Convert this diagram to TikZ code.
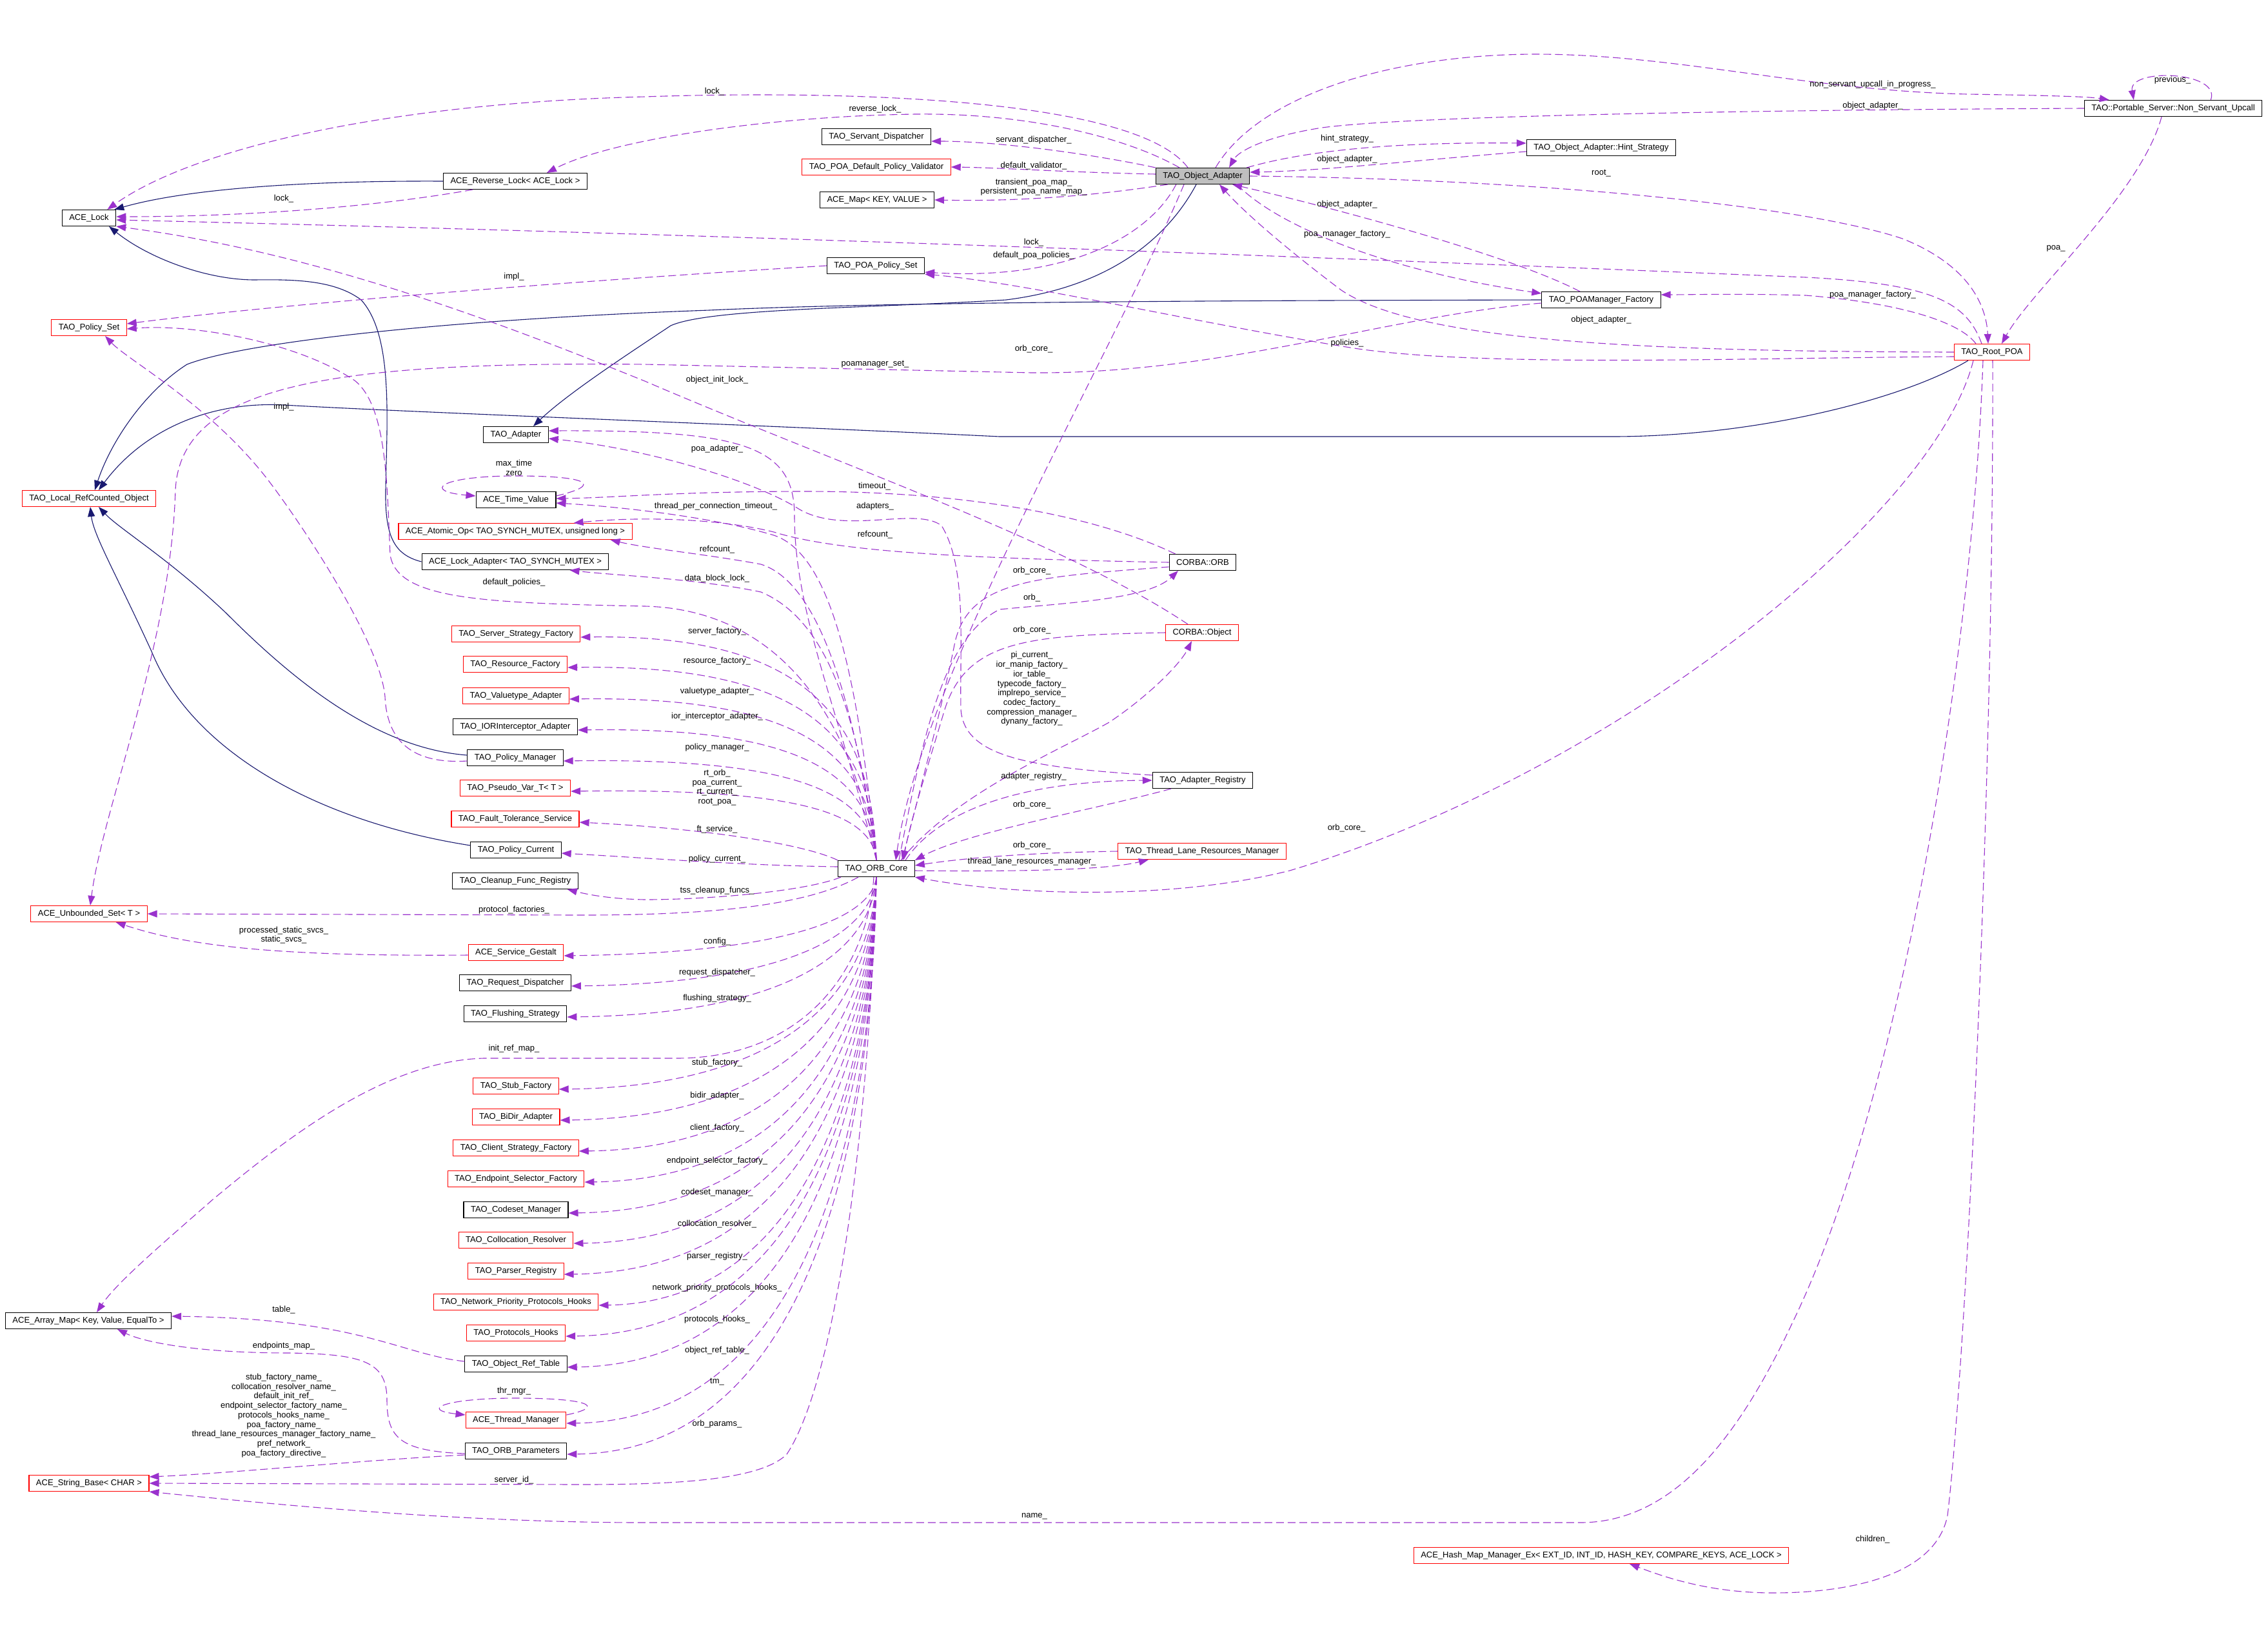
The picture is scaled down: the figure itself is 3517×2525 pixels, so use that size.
\documentclass[tikz,border=0pt]{standalone}
\usepackage{fontspec}
\setmainfont{Liberation Sans}
\usetikzlibrary{arrows.meta}
\definecolor{UsePurple}{HTML}{9A32CD}
\definecolor{BaseNavy}{HTML}{191970}
\definecolor{NodeRed}{HTML}{FF0000}
\definecolor{NodeGray}{HTML}{BFBFBF}
\tikzset{
  cls/.style={draw=black, line width=1.1pt, fill=white, inner xsep=11pt, inner ysep=0pt,
    minimum height=25pt, font=\fontsize{13}{14.7}\selectfont},
  clsred/.style={cls, draw=NodeRed},
  clsmain/.style={cls, fill=NodeGray},
  lbl/.style={inner sep=0pt, align=center, font=\fontsize{13}{14.7}\selectfont},
  uses/.style={draw=UsePurple, line width=1.1pt, dash pattern=on 12pt off 6pt,
    -{Triangle[length=15pt,width=11pt,fill=UsePurple]}},
  isa/.style={draw=BaseNavy, line width=1.1pt,
    -{Triangle[length=15pt,width=11pt,fill=BaseNavy]}}
}

\begin{document}
\begin{tikzpicture}[x=1pt, y=-1pt]
  \path[fill=white] (0,0) rectangle (3517,2525);

  % classes, left
  \node[cls] (lock) at (138,338) {ACE\_Lock};
  \node[clsred] (pset) at (138,508) {TAO\_Policy\_Set};
  \node[clsred] (lrco) at (138,773) {TAO\_Local\_RefCounted\_Object};
  \node[clsred] (uset) at (138,1417) {ACE\_Unbounded\_Set< T >};
  \node[cls] (amap) at (137,2048) {ACE\_Array\_Map< Key, Value, EqualTo >};
  \node[clsred] (sbase) at (138,2300) {ACE\_String\_Base< CHAR >};

  \node[cls] (rlock) at (799,281) {ACE\_Reverse\_Lock< ACE\_Lock >};
  \node[cls] (adapter) at (800,674) {TAO\_Adapter};
  \node[cls] (tval) at (800,775) {ACE\_Time\_Value};
  \node[clsred] (aop) at (799,824) {ACE\_Atomic\_Op< TAO\_SYNCH\_MUTEX, unsigned long >};
  \node[cls] (ladapt) at (799,871) {ACE\_Lock\_Adapter< TAO\_SYNCH\_MUTEX >};
  \node[clsred] (ssf) at (800,983) {TAO\_Server\_Strategy\_Factory};
  \node[clsred] (rf) at (799,1030) {TAO\_Resource\_Factory};
  \node[clsred] (vta) at (800,1079) {TAO\_Valuetype\_Adapter};
  \node[cls] (iora) at (799,1127) {TAO\_IORInterceptor\_Adapter};
  \node[cls] (pman) at (799,1175) {TAO\_Policy\_Manager};
  \node[clsred] (pvar) at (799,1222) {TAO\_Pseudo\_Var\_T< T >};
  \node[clsred] (fts) at (799,1270) {TAO\_Fault\_Tolerance\_Service};
  \node[cls] (pcur) at (800,1318) {TAO\_Policy\_Current};
  \node[cls] (cfr) at (799,1366) {TAO\_Cleanup\_Func\_Registry};
  \node[clsred] (gestalt) at (800,1477) {ACE\_Service\_Gestalt};
  \node[cls] (rdisp) at (799,1524) {TAO\_Request\_Dispatcher};
  \node[cls] (flush) at (799,1572) {TAO\_Flushing\_Strategy};
  \node[clsred] (stubf) at (800,1684) {TAO\_Stub\_Factory};
  \node[clsred] (bidir) at (800,1732) {TAO\_BiDir\_Adapter};
  \node[clsred] (csf) at (800,1780) {TAO\_Client\_Strategy\_Factory};
  \node[clsred] (esf) at (800,1828) {TAO\_Endpoint\_Selector\_Factory};
  \node[cls] (csm) at (800,1876) {TAO\_Codeset\_Manager};
  \node[clsred] (colres) at (800,1923) {TAO\_Collocation\_Resolver};
  \node[clsred] (preg) at (800,1971) {TAO\_Parser\_Registry};
  \node[clsred] (nph) at (800,2019) {TAO\_Network\_Priority\_Protocols\_Hooks};
  \node[clsred] (phooks) at (800,2067) {TAO\_Protocols\_Hooks};
  \node[cls] (ortable) at (800,2115) {TAO\_Object\_Ref\_Table};
  \node[clsred] (thrmgr) at (800,2202) {ACE\_Thread\_Manager};
  \node[cls] (orbparams) at (800,2250) {TAO\_ORB\_Parameters};

  % classes, middle and right
  \node[cls] (sdisp) at (1359,212) {TAO\_Servant\_Dispatcher};
  \node[clsred] (dval) at (1359,259) {TAO\_POA\_Default\_Policy\_Validator};
  \node[cls] (kvmap) at (1360,310) {ACE\_Map< KEY, VALUE >};
  \node[cls] (ppset) at (1358,412) {TAO\_POA\_Policy\_Set};
  \node[cls] (core) at (1359,1347) {TAO\_ORB\_Core};

  \node[clsmain] (oa) at (1865,273) {TAO\_Object\_Adapter};
  \node[cls] (orb) at (1865,872) {CORBA::ORB};
  \node[clsred] (obj) at (1864,981) {CORBA::Object};
  \node[cls] (areg) at (1865,1210) {TAO\_Adapter\_Registry};
  \node[clsred] (tlrm) at (1864,1320) {TAO\_Thread\_Lane\_Resources\_Manager};

  \node[cls] (hint) at (2483,229) {TAO\_Object\_Adapter::Hint\_Strategy};
  \node[cls] (pmf) at (2483,465) {TAO\_POAManager\_Factory};
  \node[clsred] (hmap) at (2483,2412) {ACE\_Hash\_Map\_Manager\_Ex< EXT\_ID, INT\_ID, HASH\_KEY, COMPARE\_KEYS, ACE\_LOCK >};
  \node[clsred] (rpoa) at (3089,546) {TAO\_Root\_POA};
  \node[cls] (nsu) at (3370,168) {TAO::Portable\_Server::Non\_Servant\_Upcall};

  % inheritance
  \draw[isa] (rlock.west) .. controls (500,280) and (300,290) .. ([xshift=-3pt]lock.north east);
  \draw[isa] (ladapt.west) .. controls (610,860) and (597,830) .. (598,760) .. controls (600,650) and (610,520) .. (560,465) .. controls (520,435) and (460,433) .. (395,434) .. controls (320,434) and (230,400) .. ([xshift=31pt]lock.south);
  \draw[isa] ([xshift=-10pt]oa.south) .. controls (1810,370) and (1720,445) .. (1560,465) .. controls (1350,478) and (1100,478) .. (1040,505) .. controls (980,545) and (880,610) .. ([xshift=27pt]adapter.north);
  \draw[isa] (pmf.west) .. controls (2000,466) and (1400,467) .. (1100,481) .. controls (700,495) and (380,530) .. (290,565) .. controls (220,610) and (170,690) .. ([xshift=9pt]lrco.north);
  \draw[isa] ([xshift=-37pt]rpoa.south) .. controls (2950,620) and (2720,677) .. (2500,677) -- (1550,677) .. controls (1200,660) and (650,640) .. (440,628) .. controls (320,622) and (220,670) .. ([xshift=15pt]lrco.north);
  \draw[isa] ([yshift=4pt]pman.west) .. controls (580,1160) and (450,1050) .. (350,950) .. controls (260,865) and (185,820) .. ([xshift=15pt]lrco.south);
  \draw[isa] ([yshift=7pt]pcur.west) .. controls (500,1275) and (300,1170) .. (235,1010) .. controls (180,890) and (145,830) .. ([xshift=2pt]lrco.south);

  % TAO_Object_Adapter members
  \draw[uses] ([xshift=-23pt]oa.north) .. controls (1760,150) and (1300,140) .. (1000,150) .. controls (600,160) and (300,230) .. ([xshift=-14pt]lock.north east);
  \draw[uses] ([xshift=-36pt]oa.north) .. controls (1750,215) and (1600,175) .. (1420,177) .. controls (1200,180) and (950,215) .. ([xshift=49pt]rlock.north);
  \draw[uses] (oa.north west) .. controls (1700,240) and (1550,219) .. ([yshift=-7pt]sdisp.east);
  \draw[uses] ([yshift=3pt]oa.west) .. controls (1650,267) and (1550,260) .. (dval.east);
  \draw[uses] ([xshift=19pt]oa.south west) .. controls (1720,300) and (1600,313) .. (kvmap.east);
  \draw[uses] ([xshift=32pt]oa.south west) .. controls (1780,370) and (1650,435) .. ([yshift=3pt]ppset.south east);
  \draw[uses] ([xshift=-29pt]oa.south) .. controls (1720,560) and (1430,1050) .. ([xshift=30pt]core.north);
  \draw[uses] ([xshift=-5pt]oa.north east) .. controls (2020,235) and (2150,220) .. ([yshift=7pt]hint.west);
  \draw[uses] ([yshift=-6pt]hint.west) .. controls (2200,248) and (2050,265) .. ([yshift=6pt]oa.east);
  \draw[uses] ([xshift=20pt]oa.north) .. controls (1950,150) and (2150,85) .. (2380,84) .. controls (2600,84) and (2800,140) .. (3050,146) .. controls (3180,148) and (3240,150) .. ([xshift=39pt]nsu.north west);
  \draw[uses] (oa.east) .. controls (2400,278) and (2800,320) .. (2950,370) .. controls (3050,410) and (3080,470) .. ([xshift=-6pt]rpoa.north);
  \draw[uses] ([xshift=-20pt]oa.south east) .. controls (1980,350) and (2150,420) .. ([yshift=10pt]pmf.west);

  % TAO::Portable_Server::Non_Servant_Upcall
  \draw[uses] ([xshift=-80pt]nsu.north east) .. controls (3445,110) and (3300,105) .. ([xshift=77pt]nsu.north west);
  \draw[uses] (nsu.west) .. controls (2800,170) and (2200,178) .. (2050,198) .. controls (1960,212) and (1920,235) .. ([xshift=41pt]oa.north);
  \draw[uses] ([xshift=-18pt]nsu.south) .. controls (3320,300) and (3150,450) .. ([xshift=15pt]rpoa.north);

  % TAO_Root_POA
  \draw[uses] ([xshift=-16pt]rpoa.north) .. controls (3050,470) and (3000,440) .. (2800,430) .. controls (2200,405) and (1200,365) .. ([yshift=-3pt]lock.east);
  \draw[uses] ([xshift=-25pt]rpoa.north) .. controls (3040,500) and (2950,470) .. (2800,458) .. controls (2700,455) and (2620,457) .. ([yshift=8pt]pmf.east);
  \draw[uses] (rpoa.west) .. controls (2550,545) and (2200,530) .. (2080,450) .. controls (2000,390) and (1930,330) .. ([xshift=26pt]oa.south);
  \draw[uses] ([yshift=-7pt]rpoa.west) .. controls (2700,555) and (2300,570) .. (2100,540) .. controls (1850,500) and (1600,440) .. (ppset.south east);
  \draw[uses] ([xshift=-29pt]rpoa.south) .. controls (3000,800) and (2500,1200) .. (2000,1350) .. controls (1800,1400) and (1550,1385) .. (core.south east);
  \draw[uses] ([xshift=-14pt]rpoa.south) .. controls (3060,1000) and (2950,1700) .. (2780,2050) .. controls (2700,2220) and (2600,2361) .. (2450,2361) -- (1000,2361) .. controls (700,2361) and (400,2330) .. (sbase.south east);
  \draw[uses] ([xshift=1pt]rpoa.south) .. controls (3092,1200) and (3050,2100) .. (3020,2350) .. controls (3000,2450) and (2850,2470) .. (2750,2470) .. controls (2650,2470) and (2580,2445) .. ([xshift=44pt]hmap.south);

  % TAO_POAManager_Factory
  \draw[uses] ([xshift=-33pt]pmf.north) .. controls (2350,400) and (2100,330) .. ([xshift=46pt]oa.south);
  \draw[uses] ([yshift=-5pt]pmf.west) .. controls (2150,490) and (1900,580) .. (1600,578) -- (1000,565) .. controls (500,560) and (280,600) .. (272,760) .. controls (265,1000) and (160,1250) .. ([xshift=2pt]uset.north);

  % CORBA::ORB, CORBA::Object
  \draw[uses] ([xshift=10pt]orb.north west) .. controls (1700,800) and (1500,762) .. (1250,762) .. controls (1050,762) and (950,772) .. ([yshift=2pt]tval.east);
  \draw[uses] (orb.west) .. controls (1500,866) and (1300,856) .. (1200,825) .. controls (1120,805) and (1000,800) .. ([xshift=-91pt]aop.north east);
  \draw[uses] ([yshift=-7pt]orb.west) .. controls (1600,895) and (1500,900) .. (1480,1000) .. controls (1460,1100) and (1420,1250) .. ([xshift=40pt]core.north);
  \draw[uses] ([xshift=35pt]core.north) .. controls (1430,1150) and (1460,990) .. (1550,945) .. controls (1650,935) and (1780,930) .. ([xshift=-38pt]orb.south);
  \draw[uses] ([xshift=-22pt]obj.north) .. controls (1650,840) and (1300,720) .. (1000,591) .. controls (750,490) and (480,390) .. (lock.south east);
  \draw[uses] (obj.west) .. controls (1600,985) and (1500,990) .. (1465,1100) .. controls (1435,1200) and (1410,1280) .. ([xshift=42pt]core.north);
  \draw[uses] ([xshift=38pt]core.north) .. controls (1480,1230) and (1650,1160) .. (1720,1120) .. controls (1780,1080) and (1830,1030) .. ([xshift=-16pt]obj.south);

  % TAO_Adapter_Registry, TAO_Thread_Lane_Resources_Manager
  \draw[uses] ([xshift=45pt]core.north) .. controls (1460,1250) and (1600,1211) .. (areg.west);
  \draw[uses] ([xshift=-49pt]areg.south) .. controls (1700,1255) and (1500,1290) .. (core.north east);
  \draw[uses] ([yshift=8pt]areg.west) .. controls (1600,1190) and (1495,1175) .. (1490,1100) .. controls (1488,1000) and (1500,880) .. (1460,815) .. controls (1420,785) and (1310,830) .. (1240,790) .. controls (1170,745) and (1000,695) .. ([yshift=-6pt]adapter.east);
  \draw[uses] (tlrm.west) .. controls (1600,1322) and (1500,1330) .. ([yshift=5pt]core.east);
  \draw[uses] ([yshift=-3pt]core.east) .. controls (1600,1352) and (1720,1348) .. ([xshift=-83pt]tlrm.south);

  % TAO_ORB_Core members, upper
  \draw[uses] (core.north) .. controls (1300,1100) and (1232,950) .. (1232,800) .. controls (1232,690) and (1150,667) .. ([yshift=6pt]adapter.east);
  \draw[uses] (core.north) .. controls (1330,1050) and (1290,860) .. (1200,830) .. controls (1100,800) and (950,785) .. ([yshift=-5pt]tval.east);
  \draw[uses] (core.north) .. controls (1320,1050) and (1260,900) .. (1180,875) .. controls (1100,860) and (1000,850) .. ([xshift=-34pt]aop.south east);
  \draw[uses] (core.north) .. controls (1330,1100) and (1280,960) .. (1180,918) .. controls (1080,897) and (950,892) .. ([xshift=-61pt]ladapt.south east);
  \draw[uses] (core.north) .. controls (1320,1100) and (1200,945) .. (1000,940) .. controls (750,935) and (615,930) .. (605,860) .. controls (600,750) and (600,630) .. (550,590) .. controls (460,530) and (300,502) .. ([yshift=-2pt]pset.east);
  \foreach \n/\y in {ssf/983,rf/1030,vta/1079,iora/1127,pman/1175,pvar/1222}{%
    \draw[uses] (core.north) .. controls (1352,{\y+0.35*(1334-\y)}) and (1240,\y) .. ([yshift=-5pt]\n.east);
  }
  \draw[uses] (core.north west) .. controls (1250,1310) and (1100,1285) .. ([yshift=-5pt]fts.east);
  \draw[uses] ([yshift=3pt]core.west) .. controls (1150,1342) and (1000,1330) .. ([yshift=-5pt]pcur.east);
  \draw[uses] ([xshift=-55pt]core.south) .. controls (1250,1382) and (1100,1395) .. (1000,1395) .. controls (950,1394) and (915,1388) .. ([xshift=-17pt]cfr.south east);
  \draw[uses] ([xshift=-28pt]core.south) .. controls (1250,1405) and (1100,1419) .. (900,1419) -- (uset.east);

  % TAO_ORB_Core members, lower
  \foreach \n/\y in {gestalt/1477,rdisp/1524,flush/1572,stubf/1684,bidir/1732,csf/1780,esf/1828,csm/1876,
    colres/1923,preg/1971,nph/2019,phooks/2067,ortable/2115,thrmgr/2202,orbparams/2250}{%
    \draw[uses] (core.south) .. controls (1352,{1360+0.5*(\y-1360)}) and (1240,\y) .. ([yshift=-5pt]\n.east);
  }
  \draw[uses] ([xshift=-4pt]core.south) .. controls (1345,1500) and (1250,1640) .. (1050,1641) -- (750,1641) .. controls (600,1645) and (450,1760) .. (330,1860) .. controls (250,1930) and (180,1990) .. ([xshift=13pt]amap.north);
  \draw[uses] (core.south) .. controls (1345,1800) and (1290,2150) .. (1220,2255) .. controls (1180,2295) and (1050,2302) .. (900,2302) -- (sbase.east);

  % left column members
  \draw[uses] ([xshift=-66pt]rlock.south) .. controls (600,318) and (400,336) .. ([yshift=2pt]lock.east);
  \draw[uses] (ppset.west) .. controls (900,435) and (450,470) .. ([yshift=6pt]pset.east);
  \draw[uses] ([yshift=-5pt]pman.west) .. controls (640,1185) and (600,1150) .. (597,1080) .. controls (590,1000) and (480,830) .. (420,750) .. controls (330,630) and (200,560) .. ([xshift=25pt]pset.south);
  \draw[uses] ([yshift=6pt]tval.east) .. controls (935,752) and (915,738) .. (800,738) .. controls (680,738) and (655,762) .. ([yshift=6pt]tval.west);
  \draw[uses] ([yshift=8pt]thrmgr.east) .. controls (945,2180) and (905,2168) .. (800,2168) .. controls (690,2168) and (650,2186) .. ([yshift=8pt]thrmgr.west);
  \draw[uses] ([yshift=-4pt]gestalt.west) .. controls (450,1483) and (300,1470) .. ([xshift=-49pt]uset.south east);
  \draw[uses] ([yshift=4pt]ortable.west) .. controls (620,2100) and (560,2045) .. ([yshift=7pt]amap.east);
  \draw[uses] ([yshift=-4pt]orbparams.west) .. controls (620,2250) and (600,2230) .. (600,2170) .. controls (600,2110) and (560,2100) .. (450,2098) .. controls (300,2098) and (220,2080) .. ([xshift=45pt]amap.south);
  \draw[uses] ([yshift=-6pt]orbparams.west) .. controls (550,2265) and (350,2285) .. ([yshift=10pt]sbase.east);

  % edge labels
  \foreach \x/\y/\t [count=\i] in {
    1108/142/lock\_, 1357/169/reverse\_lock\_, 440/308/lock\_,
    1603/217/servant\_dispatcher\_, 1603/257/default\_validator\_,
    1603/290/{transient\_poa\_map\_\\persistent\_poa\_name\_map\_},
    1603/376/lock\_, 1603/396/default\_poa\_policies\_, 797/429/impl\_,
    1603/541/orb\_core\_, 1357/565/poamanager\_set\_, 1112/589/object\_init\_lock\_,
    440/631/impl\_, 2089/215/hint\_strategy\_, 2089/247/object\_adapter\_,
    2089/317/object\_adapter\_, 2089/363/poa\_manager\_factory\_,
    2904/131/non\_servant\_upcall\_in\_progress\_, 2904/164/object\_adapter\_,
    3369/124/previous\_, 2483/269/root\_, 3188/385/poa\_,
    2904/457/poa\_manager\_factory\_, 2483/496/object\_adapter\_, 2089/532/policies\_,
    797/725/{max\_time\\zero}, 1112/696/poa\_adapter\_, 1356/754/timeout\_,
    1110/785/thread\_per\_connection\_timeout\_, 1357/785/adapters\_,
    1357/829/refcount\_, 1112/852/refcount\_, 1112/897/data\_block\_lock\_,
    797/903/default\_policies\_, 1600/885/orb\_core\_, 1600/927/orb\_, 1600/977/orb\_core\_,
    1600/1068/{pi\_current\_\\ior\_manip\_factory\_\\ior\_table\_\\typecode\_factory\_\\implrepo\_service\_\\codec\_factory\_\\compression\_manager\_\\dynany\_factory\_},
    1112/979/server\_factory\_, 1112/1025/resource\_factory\_, 1112/1072/valuetype\_adapter\_,
    1112/1111/ior\_interceptor\_adapter\_, 1112/1159/policy\_manager\_,
    1112/1221/{rt\_orb\_\\poa\_current\_\\rt\_current\_\\root\_poa\_},
    1112/1286/ft\_service\_, 1112/1332/policy\_current\_, 1112/1381/tss\_cleanup\_funcs\_,
    1603/1204/adapter\_registry\_, 1600/1248/orb\_core\_, 1600/1311/orb\_core\_,
    1600/1336/thread\_lane\_resources\_manager\_, 2088/1284/orb\_core\_,
    797/1411/protocol\_factories\_, 440/1450/{processed\_static\_svcs\_\\static\_svcs\_},
    1112/1460/config\_, 1112/1508/request\_dispatcher\_, 1112/1548/flushing\_strategy\_,
    797/1626/init\_ref\_map\_, 1112/1648/stub\_factory\_, 1112/1699/bidir\_adapter\_,
    1112/1749/client\_factory\_, 1112/1800/endpoint\_selector\_factory\_,
    1112/1849/codeset\_manager\_, 1112/1898/collocation\_resolver\_,
    1112/1948/parser\_registry\_, 1112/1997/network\_priority\_protocols\_hooks\_,
    1112/2046/protocols\_hooks\_, 1112/2094/object\_ref\_table\_, 1112/2143/tm\_,
    797/2157/thr\_mgr\_, 1112/2208/orb\_params\_, 440/2031/table\_, 440/2087/endpoints\_map\_,
    440/2195/{stub\_factory\_name\_\\collocation\_resolver\_name\_\\default\_init\_ref\_\\endpoint\_selector\_factory\_name\_\\protocols\_hooks\_name\_\\poa\_factory\_name\_\\thread\_lane\_resources\_manager\_factory\_name\_\\pref\_network\_\\poa\_factory\_directive\_},
    797/2295/server\_id\_, 1604/2351/name\_, 2904/2387/children\_}{%
    \node[lbl] (lab\i) at (\x,\y) {\t};
  }
\end{tikzpicture}
\end{document}
